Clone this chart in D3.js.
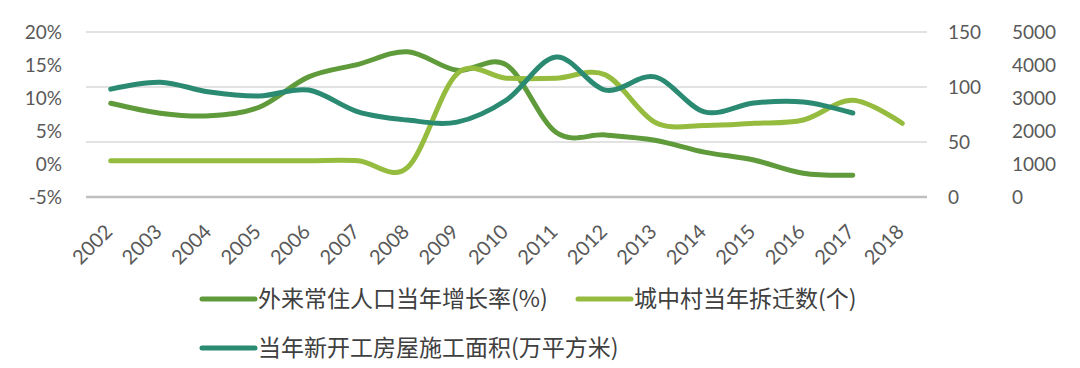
<!DOCTYPE html>
<html>
<head>
<meta charset="utf-8">
<script src="https://cdn.jsdelivr.net/npm/d3@7"></script>
<style>
  body { margin: 0; background: #fff; }
  svg text { font-family: Lato, "Noto Sans", sans-serif; fill: #595959; }
  .legend text { font-family: "Noto Sans CJK SC", sans-serif; fill: #404040; }
</style>
</head>
<body>
<svg id="chart" width="1080" height="368"></svg>
<script>
// years on the x axis
const years = ["2002", "2003", "2004", "2005", "2006", "2007", "2008", "2009", "2010",
    "2011", "2012", "2013", "2014", "2015", "2016", "2017", "2018"];

// 外来常住人口当年增长率 (%), left axis
const popGrowth = [9.2, 7.7, 7.3, 8.6, 13.2, 15.1, 17.0, 14.2, 15.0,
    4.8, 4.4, 3.6, 1.8, 0.6, -1.4, -1.7];

// 城中村当年拆迁数 (个), first right axis
const villages = [33, 33, 33, 33, 33, 33, 27, 112, 108,
    108, 111, 68, 65, 67, 70, 88, 67];

// 当年新开工房屋施工面积 (万平方米), second right axis
const floorArea = [3270, 3480, 3180, 3060, 3240, 2580, 2330, 2270, 2940,
    4240, 3240, 3640, 2580, 2850, 2880, 2545];

const leftTicks = [-5, 0, 5, 10, 15, 20];
const right1Ticks = [0, 50, 100, 150];
const right2Ticks = [0, 1000, 2000, 3000, 4000, 5000];

const series = [
    { name: "外来常住人口当年增长率(%)", values: popGrowth, axis: "left", color: "#5f9a3b" },
    { name: "城中村当年拆迁数(个)", values: villages, axis: "r1", color: "#95bc3e" },
    { name: "当年新开工房屋施工面积(万平方米)", values: floorArea, axis: "r2", color: "#2b8a72" }
];

const svg = d3.select("#chart");

const x = d3.scalePoint().domain(years).range([86, 927]).padding(0.5);
const yLeft = d3.scaleLinear().domain([-5, 20]).range([197, 32]);
const yR1 = d3.scaleLinear().domain([0, 150]).range([197, 32]);
const yR2 = d3.scaleLinear().domain([0, 5000]).range([197, 32]);
const scales = { left: yLeft, r1: yR1, r2: yR2 };

// gridlines follow the first right axis
svg.append("g")
    .selectAll("line")
    .data(right1Ticks)
    .join("line")
    .attr("x1", 86)
    .attr("x2", 927)
    .attr("y1", d => yR1(d))
    .attr("y2", d => yR1(d))
    .attr("stroke", d => d === 0 ? "#bfbfbf" : "#d9d9d9")
    .attr("stroke-width", d => d === 0 ? 2.5 : 1.5);

// axes, no domain line or tick marks
function cleanAxis(g) {
    g.select(".domain").remove();
    g.selectAll(".tick line").remove();
    g.selectAll("text").attr("font-size", 19).style("fill", "#595959");
}

svg.append("g")
    .attr("transform", "translate(62,0)")
    .call(d3.axisLeft(yLeft).tickValues(leftTicks).tickSize(0).tickPadding(0)
        .tickFormat(d => d + "%"))
    .call(cleanAxis);

svg.append("g")
    .attr("transform", "translate(948,0)")
    .call(d3.axisRight(yR1).tickValues(right1Ticks).tickSize(0).tickPadding(0))
    .call(cleanAxis);

svg.append("g")
    .attr("transform", "translate(1012,0)")
    .call(d3.axisRight(yR2).tickValues(right2Ticks).tickSize(0).tickPadding(0)
        .tickFormat(d3.format("d")))
    .call(cleanAxis);

// rotated year labels
svg.append("g")
    .selectAll("text")
    .data(years)
    .join("text")
    .attr("transform", d => `translate(${x(d) - 2},${228}) rotate(-45)`)
    .attr("text-anchor", "end")
    .attr("dy", "0.35em")
    .attr("font-size", 20)
    .text(d => d);

// smoothed lines
series.forEach(s => {
    const y = scales[s.axis];
    const line = d3.line()
        .x((d, i) => x(years[i]))
        .y(d => y(d))
        .curve(d3.curveCatmullRom.alpha(0));
    svg.append("path")
        .datum(s.values)
        .attr("d", line)
        .attr("fill", "none")
        .attr("stroke", s.color)
        .attr("stroke-width", 5)
        .attr("stroke-linecap", "round")
        .attr("stroke-linejoin", "round");
});

// legend
const legendPos = [
    { x: 202, y: 299 },
    { x: 578, y: 299 },
    { x: 202, y: 348 }
];
const legend = svg.append("g").attr("class", "legend");
series.forEach((s, i) => {
    const p = legendPos[i];
    legend.append("line")
        .attr("x1", p.x).attr("x2", p.x + 53)
        .attr("y1", p.y).attr("y2", p.y)
        .attr("stroke", s.color)
        .attr("stroke-width", 5)
        .attr("stroke-linecap", "round");
    legend.append("text")
        .attr("x", p.x + 56)
        .attr("y", p.y)
        .attr("dy", "0.35em")
        .attr("font-size", 23)
        .text(s.name);
});
</script>
</body>
</html>
